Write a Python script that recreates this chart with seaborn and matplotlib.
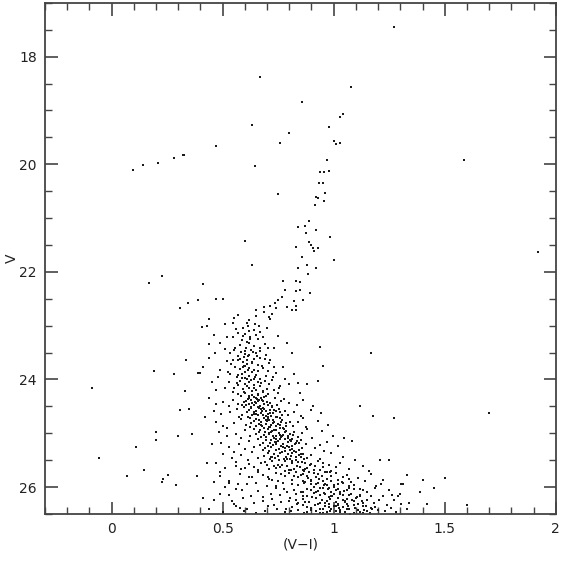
import numpy as np
import pandas as pd
import seaborn as sns
from matplotlib import pyplot as plt
from matplotlib.ticker import MultipleLocator

# blue horizontal branch
hb = [(0.095, 20.10), (0.14, 20.02), (0.207, 19.98), (0.28, 19.89), (0.32, 19.82), (0.325, 19.83)]

# red giant branch + subgiants
rgb = [(0.667, 18.38), (1.077, 18.57), (0.856, 18.85), (1.04, 19.07), (1.03, 19.12), (0.98, 19.31),
       (0.80, 19.42), (1.0, 19.57), (1.01, 19.63), (1.027, 19.61), (0.97, 19.93), (0.94, 20.15),
       (0.955, 20.15), (0.977, 20.13), (0.932, 20.35), (0.95, 20.34), (0.96, 20.54), (0.92, 20.6),
       (0.93, 20.62), (0.915, 20.75), (0.955, 20.68), (0.87, 21.14), (0.89, 21.05), (0.84, 21.16),
       (0.92, 21.22), (0.875, 21.28), (0.89, 21.44), (0.90, 21.5), (0.905, 21.56), (0.91, 21.62),
       (0.93, 21.56), (0.83, 21.53), (0.855, 21.72), (0.88, 21.87), (0.84, 21.92), (0.92, 21.92),
       (0.885, 22.04), (0.77, 22.17), (0.83, 22.17), (0.85, 22.19), (0.78, 22.34), (0.83, 22.35),
       (0.85, 22.34), (0.895, 22.39), (0.765, 22.46), (0.75, 22.52), (0.82, 22.54), (0.86, 22.52),
       (0.735, 22.58), (0.715, 22.63), (0.685, 22.65), (0.74, 22.67), (0.79, 22.65), (0.83, 22.63),
       (0.81, 22.7), (0.83, 22.7)]

# field stars scattered over the diagram
field = [(1.27, 17.45), (0.63, 19.27), (0.76, 19.61), (0.47, 19.66), (0.644, 20.04), (0.748, 20.56),
         (1.585, 19.93), (0.985, 21.36), (0.6, 21.43), (1.0, 21.78), (0.63, 21.87), (1.92, 21.63),
         (0.17, 22.2), (0.225, 22.07), (0.41, 22.22), (0.31, 22.67), (0.345, 22.58), (0.39, 22.52),
         (0.47, 22.5), (0.5, 22.5), (0.335, 23.64), (0.19, 23.84), (0.28, 23.9), (0.39, 23.88),
         (-0.09, 24.15), (0.33, 24.22), (0.31, 24.57), (0.35, 24.55), (0.2, 24.98), (0.2, 25.13),
         (0.3, 25.05), (0.36, 25.02), (0.11, 25.25), (-0.055, 25.45), (0.145, 25.69), (0.07, 25.8),
         (0.23, 25.84), (0.225, 25.9), (0.255, 25.77), (0.29, 25.97), (0.385, 25.8), (1.27, 24.71),
         (1.70, 24.63), (1.25, 25.49), (1.21, 25.5), (1.33, 25.78), (1.40, 25.87), (1.5, 25.83),
         (1.31, 25.95), (1.305, 25.95), (1.45, 26.02), (1.39, 26.1), (1.29, 26.16), (1.60, 26.33),
         (1.42, 26.31), (1.34, 26.29), (0.94, 23.4), (1.17, 23.5), (0.95, 23.75), (0.93, 24.02),
         (1.117, 24.5), (1.175, 24.67)]

# upper main sequence / turnoff
ms_upper = [(0.65, 22.7), (0.685, 22.75), (0.72, 22.78), (0.65, 22.82), (0.71, 22.84), (0.57, 22.8),
            (0.62, 22.9), (0.55, 22.86), (0.645, 22.97), (0.715, 22.88), (0.44, 22.88), (0.51, 22.97),
            (0.545, 22.95), (0.43, 23.0), (0.405, 23.02), (0.59, 23.04), (0.615, 23.0), (0.665, 23.0),
            (0.70, 23.04), (0.62, 23.1), (0.57, 23.14), (0.52, 23.21), (0.545, 23.21), (0.625, 23.21),
            (0.65, 23.18), (0.46, 23.18), (0.585, 23.27), (0.61, 23.3), (0.62, 23.32), (0.44, 23.34),
            (0.49, 23.32), (0.69, 23.34), (0.73, 23.41), (0.79, 23.32), (0.67, 23.41), (0.555, 23.41),
            (0.6, 23.47), (0.465, 23.5), (0.635, 23.49), (0.535, 23.5), (0.81, 23.5), (0.57, 23.57),
            (0.595, 23.58), (0.655, 23.57), (0.695, 23.55), (0.715, 23.64), (0.545, 23.64), (0.41, 23.77),
            (0.49, 23.83), (0.555, 23.77), (0.595, 23.75), (0.63, 23.7), (0.675, 23.75), (0.71, 23.7),
            (0.73, 23.77), (0.77, 23.77), (0.4, 23.88), (0.535, 23.9), (0.565, 23.95), (0.585, 23.9),
            (0.61, 24.0), (0.645, 23.95), (0.67, 24.0), (0.695, 23.93), (0.72, 24.01), (0.80, 24.08),
            (0.84, 24.07), (0.88, 24.08), (0.76, 24.12), (0.47, 24.2), (0.51, 24.15),
            (0.60, 23.52), (0.62, 23.55), (0.58, 23.61), (0.61, 23.63), (0.64, 23.62), (0.59, 23.68),
            (0.61, 23.71), (0.6, 23.74), (0.62, 23.79), (0.58, 23.81), (0.64, 23.83), (0.6, 23.86),
            (0.63, 23.87), (0.66, 23.85), (0.57, 23.92), (0.62, 23.93), (0.6, 23.97), (0.64, 23.99),
            (0.58, 24.02), (0.62, 24.04), (0.66, 24.05), (0.69, 24.03), (0.6, 24.08), (0.64, 24.1),
            (0.57, 24.11), (0.67, 24.13), (0.71, 24.09), (0.62, 24.15), (0.59, 24.18), (0.65, 24.19),
            (0.7, 24.17), (0.55, 24.16), (0.63, 24.22), (0.68, 24.24), (0.6, 24.25), (0.73, 24.2),
            (0.66, 24.28), (0.62, 24.3), (0.57, 24.27), (0.52, 23.66), (0.48, 23.95), (0.53, 24.05),
            (0.74, 23.88), (0.69, 23.62), (0.55, 23.45), (0.64, 23.38), (0.58, 23.36), (0.66, 23.25),
            (0.6, 23.16), (0.56, 23.07), (0.67, 23.12), (0.75, 23.2), (0.51, 23.43), (0.78, 24.0),
            (0.75, 24.25), (0.45, 24.05), (0.44, 23.6), (0.82, 23.9), (0.85, 24.25),
            (0.603, 23.418), (0.627, 23.447), (0.583, 23.483), (0.648, 23.512), (0.612, 23.563),
            (0.668, 23.598), (0.571, 23.638), (0.632, 23.682), (0.657, 23.726), (0.593, 23.763),
            (0.681, 23.792), (0.614, 23.824), (0.649, 23.912), (0.586, 23.968), (0.628, 24.018),
            (0.672, 24.072), (0.608, 24.122), (0.643, 24.163), (0.683, 24.212), (0.596, 24.224),
            (0.657, 24.262), (0.631, 24.288), (0.702, 24.268), (0.547, 24.238), (0.522, 23.852),
            (0.702, 23.846), (0.728, 23.958), (0.752, 24.152), (0.563, 24.072), (0.538, 23.706),
            (0.667, 23.468), (0.706, 23.408), (0.623, 23.252), (0.593, 23.192), (0.682, 23.212),
            (0.642, 23.074), (0.611, 22.948)]

# main sequence, V 24.3 - 25.5
ms_mid = [(0.583, 24.31), (0.618, 24.336), (0.641, 24.318), (0.672, 24.352), (0.694, 24.305),
          (0.737, 24.344), (0.548, 24.372), (0.626, 24.388), (0.655, 24.366), (0.681, 24.402),
          (0.596, 24.414), (0.633, 24.431), (0.659, 24.408), (0.714, 24.437), (0.763, 24.396),
          (0.502, 24.41), (0.571, 24.448), (0.642, 24.466), (0.688, 24.452), (0.607, 24.481),
          (0.668, 24.494), (0.745, 24.474), (0.797, 24.436), (0.862, 24.377), (0.471, 24.462),
          (0.528, 24.497), (0.614, 24.356), (0.652, 24.441), (0.686, 24.325), (0.723, 24.489),
          (0.587, 24.473), (0.629, 24.503), (0.907, 24.49), (0.438, 24.345), (0.776, 24.371),
          (0.834, 24.483), (0.604, 24.392), (0.663, 24.378), (0.699, 24.419), (0.645, 24.425),
          (0.598, 24.513), (0.627, 24.534), (0.664, 24.521), (0.686, 24.548), (0.724, 24.508),
          (0.752, 24.553), (0.563, 24.546), (0.617, 24.572), (0.651, 24.585), (0.678, 24.594),
          (0.712, 24.566), (0.781, 24.579), (0.534, 24.605), (0.608, 24.612), (0.639, 24.634),
          (0.674, 24.618), (0.703, 24.641), (0.728, 24.626), (0.759, 24.607), (0.823, 24.598),
          (0.587, 24.652), (0.634, 24.668), (0.657, 24.659), (0.694, 24.684), (0.719, 24.672),
          (0.746, 24.693), (0.792, 24.664), (0.493, 24.637), (0.572, 24.688), (0.853, 24.673),
          (0.897, 24.562), (0.462, 24.584), (0.942, 24.628), (0.671, 24.547), (0.738, 24.588),
          (0.648, 24.637), (0.706, 24.697), (0.613, 24.694), (0.683, 24.528), (0.766, 24.652),
          (0.623, 24.712), (0.649, 24.734), (0.684, 24.718), (0.707, 24.745), (0.742, 24.706),
          (0.768, 24.752), (0.584, 24.741), (0.641, 24.774), (0.674, 24.783), (0.698, 24.768),
          (0.733, 24.792), (0.801, 24.781), (0.551, 24.803), (0.627, 24.814), (0.662, 24.832),
          (0.693, 24.818), (0.719, 24.843), (0.751, 24.827), (0.784, 24.809), (0.838, 24.797),
          (0.603, 24.854), (0.652, 24.872), (0.677, 24.858), (0.712, 24.884), (0.738, 24.869),
          (0.771, 24.893), (0.817, 24.862), (0.503, 24.861), (0.876, 24.882), (0.928, 24.763),
          (0.472, 24.781), (0.976, 24.843), (0.702, 24.729), (0.758, 24.851), (0.687, 24.902),
          (0.621, 24.889), (0.861, 24.718), (0.726, 24.761), (0.664, 24.746), (0.783, 24.873),
          (0.641, 24.912), (0.668, 24.931), (0.703, 24.922), (0.729, 24.944), (0.758, 24.909),
          (0.787, 24.953), (0.602, 24.938), (0.663, 24.972), (0.692, 24.984), (0.718, 24.967),
          (0.753, 24.993), (0.822, 24.981), (0.561, 25.004), (0.648, 25.013), (0.684, 25.031),
          (0.709, 25.018), (0.741, 25.043), (0.772, 25.027), (0.803, 25.008), (0.858, 24.998),
          (0.623, 25.052), (0.671, 25.068), (0.697, 25.061), (0.733, 25.083), (0.762, 25.072),
          (0.793, 25.094), (0.839, 25.063), (0.518, 25.058), (0.902, 25.081), (0.947, 24.963),
          (0.483, 24.982), (0.997, 25.041), (0.777, 24.928), (0.741, 25.102), (0.814, 25.098),
          (0.582, 25.093), (1.048, 25.089), (0.878, 24.924), (0.721, 24.951), (0.768, 25.048),
          (0.657, 25.114), (0.693, 25.132), (0.718, 25.121), (0.748, 25.144), (0.782, 25.109),
          (0.806, 25.152), (0.618, 25.139), (0.683, 25.172), (0.714, 25.184), (0.736, 25.168),
          (0.772, 25.193), (0.843, 25.181), (0.572, 25.204), (0.668, 25.213), (0.702, 25.234),
          (0.727, 25.219), (0.763, 25.243), (0.788, 25.227), (0.824, 25.208), (0.877, 25.198),
          (0.643, 25.253), (0.692, 25.271), (0.716, 25.262), (0.754, 25.284), (0.781, 25.269),
          (0.812, 25.293), (0.858, 25.264), (0.528, 25.262), (0.918, 25.282), (0.968, 25.163),
          (0.493, 25.178), (1.021, 25.241), (0.803, 25.128), (0.601, 25.291), (0.851, 25.118),
          (1.082, 25.152), (0.938, 25.219), (0.741, 25.158), (0.797, 25.246), (0.829, 25.176),
          (0.683, 25.312), (0.708, 25.334), (0.742, 25.318), (0.768, 25.343), (0.803, 25.306),
          (0.828, 25.352), (0.634, 25.341), (0.702, 25.372), (0.731, 25.384), (0.757, 25.368),
          (0.792, 25.393), (0.861, 25.381), (0.583, 25.402), (0.688, 25.413), (0.723, 25.432),
          (0.748, 25.418), (0.783, 25.441), (0.807, 25.427), (0.842, 25.408), (0.897, 25.398),
          (0.661, 25.452), (0.713, 25.472), (0.737, 25.461), (0.774, 25.483), (0.801, 25.469),
          (0.832, 25.492), (0.878, 25.463), (0.542, 25.458), (0.938, 25.481), (0.987, 25.362),
          (0.503, 25.378), (1.041, 25.443), (0.822, 25.328), (1.098, 25.487), (0.612, 25.489),
          (0.958, 25.321), (0.766, 25.356), (0.852, 25.437), (0.719, 25.446),
          (0.648, 24.345), (0.676, 24.382), (0.619, 24.458), (0.705, 24.472), (0.661, 24.515),
          (0.697, 24.577), (0.641, 24.601), (0.733, 24.562), (0.682, 24.662), (0.714, 24.623),
          (0.759, 24.718), (0.693, 24.762), (0.728, 24.816), (0.672, 24.844), (0.764, 24.798),
          (0.709, 24.889), (0.741, 24.931), (0.781, 24.968), (0.708, 24.996), (0.758, 25.023),
          (0.792, 25.056), (0.726, 25.058), (0.818, 25.036), (0.758, 25.113), (0.794, 25.168),
          (0.742, 25.198), (0.812, 25.231), (0.836, 25.143), (0.772, 25.262), (0.843, 25.306),
          (0.781, 25.321), (0.813, 25.362), (0.851, 25.392), (0.828, 25.442), (0.868, 25.482),
          (0.791, 25.474), (0.752, 25.498)]

# lower main sequence, V 25.5 - 26.5
ms_lower = [(0.72, 25.52), (0.78, 25.51), (0.84, 25.53), (0.87, 25.55), (0.81, 25.56), (0.75, 25.58),
            (0.90, 25.57), (0.69, 25.54), (0.62, 25.57), (0.93, 25.52), (0.98, 25.59), (1.03, 25.55),
            (0.56, 25.60), (0.79, 25.61), (0.85, 25.62), (0.88, 25.64), (0.82, 25.66), (0.76, 25.63),
            (0.71, 25.67), (0.95, 25.63), (0.91, 25.68), (1.07, 25.66), (0.66, 25.69), (0.51, 25.65),
            (0.86, 25.69), (0.80, 25.68), (1.13, 25.61), (0.99, 25.70), (0.73, 25.60), (0.60, 25.65),
            (0.47, 25.56),
            (0.83, 25.71), (0.89, 25.72), (0.86, 25.75), (0.80, 25.74), (0.93, 25.76), (0.96, 25.71),
            (0.74, 25.73), (0.68, 25.77), (1.01, 25.74), (1.06, 25.78), (0.58, 25.75), (0.88, 25.79),
            (0.92, 25.81), (0.84, 25.82), (0.78, 25.80), (0.97, 25.84), (1.02, 25.86), (0.71, 25.85),
            (0.63, 25.82), (0.90, 25.87), (0.86, 25.89), (0.95, 25.89), (1.11, 25.83), (1.17, 25.76),
            (0.53, 25.88), (0.75, 25.88), (0.81, 25.86), (1.08, 25.90), (0.66, 25.71), (0.99, 25.79),
            (0.49, 25.80), (1.22, 25.87),
            (0.87, 25.91), (0.93, 25.92), (0.90, 25.95), (0.96, 25.94), (1.00, 25.97), (0.84, 25.96),
            (0.77, 25.93), (1.04, 25.92), (0.70, 25.98), (1.09, 25.97), (0.61, 25.95), (0.91, 26.00),
            (0.95, 26.02), (0.98, 26.01), (1.02, 26.04), (0.88, 26.03), (0.82, 26.05), (1.06, 26.06),
            (0.74, 26.02), (1.12, 26.03), (0.66, 26.07), (0.93, 26.08), (0.99, 26.09), (1.03, 26.10),
            (0.86, 26.09), (1.15, 26.09), (0.56, 26.04), (0.79, 26.10), (1.19, 25.98), (0.51, 25.99),
            (1.25, 26.06), (0.97, 25.96), (1.07, 26.01),
            (0.91, 26.11), (0.96, 26.12), (1.00, 26.13), (0.94, 26.15), (1.04, 26.14), (0.88, 26.16),
            (1.08, 26.12), (0.83, 26.13), (1.12, 26.17), (0.76, 26.15), (0.68, 26.18), (0.98, 26.19),
            (1.02, 26.20), (0.92, 26.21), (1.06, 26.22), (1.10, 26.21), (0.86, 26.23), (1.15, 26.24),
            (0.80, 26.25), (0.72, 26.22), (0.59, 26.20), (0.97, 26.26), (1.01, 26.27), (1.05, 26.28),
            (0.94, 26.29), (1.09, 26.26), (1.18, 26.29), (1.22, 26.17), (0.89, 26.27), (0.54, 26.26),
            (0.64, 26.29), (0.84, 26.30), (1.13, 26.30), (1.27, 26.24), (0.99, 26.16), (0.49, 26.13),
            (1.30, 26.12),
            (0.93, 26.31), (0.98, 26.32), (1.02, 26.33), (1.06, 26.31), (0.96, 26.35), (1.00, 26.36),
            (1.04, 26.37), (1.09, 26.34), (0.90, 26.38), (1.13, 26.36), (0.86, 26.34), (1.17, 26.39),
            (0.81, 26.37), (0.73, 26.33), (0.95, 26.40), (0.99, 26.41), (1.03, 26.42), (1.07, 26.40),
            (1.11, 26.43), (0.92, 26.44), (1.01, 26.45), (1.05, 26.46), (0.88, 26.46), (1.15, 26.45),
            (1.20, 26.42), (0.97, 26.47), (1.09, 26.48), (0.84, 26.42), (0.78, 26.47), (0.69, 26.44),
            (0.61, 26.40), (1.24, 26.33), (1.28, 26.47), (0.56, 26.35), (1.13, 26.49), (0.94, 26.49),
            (1.33, 26.41), (0.50, 26.46),
            (0.42, 24.7), (0.45, 25.2), (0.43, 25.55), (0.46, 25.9), (0.41, 26.2), (0.44, 26.4),
            (0.52, 24.9), (0.55, 25.35), (0.57, 25.95), (0.53, 26.15), (0.58, 26.38),
            (0.812, 25.524), (0.857, 25.538), (0.893, 25.581), (0.768, 25.593), (0.833, 25.612),
            (0.914, 25.608), (0.952, 25.548), (0.873, 25.657), (0.742, 25.641), (0.938, 25.676),
            (1.012, 25.618), (0.806, 25.684), (0.698, 25.593), (0.641, 25.623), (0.584, 25.672),
            (0.868, 25.702), (0.913, 25.738), (0.851, 25.768), (0.947, 25.792), (0.982, 25.727),
            (0.823, 25.793), (0.764, 25.758), (0.702, 25.812), (1.043, 25.812), (0.883, 25.834),
            (0.934, 25.858), (0.988, 25.878), (1.037, 25.902), (0.867, 25.921), (0.921, 25.938),
            (0.958, 25.963), (1.018, 25.948), (0.812, 25.947), (0.741, 25.972), (0.648, 25.921),
            (1.068, 25.978), (0.938, 26.018), (0.973, 26.037), (1.011, 26.061), (1.047, 26.078),
            (0.897, 26.058), (0.852, 26.084), (0.778, 26.043), (1.092, 26.044), (1.134, 26.062),
            (0.958, 26.103), (1.028, 26.128), (1.071, 26.151), (0.938, 26.138), (0.902, 26.182),
            (0.863, 26.164), (1.118, 26.138), (1.168, 26.158), (0.803, 26.197), (0.718, 26.124),
            (0.628, 26.158), (0.982, 26.224), (1.043, 26.242), (1.082, 26.239), (1.128, 26.262),
            (0.948, 26.248), (0.873, 26.268), (0.828, 26.233), (1.204, 26.238), (0.762, 26.283),
            (0.683, 26.261), (0.963, 26.303), (1.018, 26.318), (1.063, 26.342), (1.108, 26.318),
            (1.147, 26.343), (0.918, 26.328), (0.878, 26.362), (0.834, 26.318), (1.188, 26.366),
            (0.978, 26.372), (1.022, 26.394), (1.061, 26.413), (1.098, 26.386), (1.138, 26.418),
            (0.937, 26.412), (0.897, 26.428), (1.174, 26.402), (1.231, 26.439), (0.808, 26.448),
            (0.743, 26.401), (0.982, 26.452), (1.028, 26.471), (1.072, 26.493), (1.117, 26.468),
            (0.952, 26.488), (0.868, 26.481), (1.163, 26.487), (1.258, 26.393), (0.652, 26.472),
            (0.598, 26.448), (1.012, 26.348), (1.052, 26.257), (0.992, 26.172), (1.103, 26.187),
            (0.921, 26.082), (1.003, 25.992), (0.898, 25.884), (0.968, 25.712), (1.071, 25.848),
            (0.723, 25.874), (0.782, 25.708), (0.672, 25.553), (0.618, 25.812), (0.562, 25.542),
            (0.528, 25.932), (0.589, 26.052), (0.551, 26.318), (0.463, 26.247), (0.488, 25.713),
            (0.703, 26.352), (0.783, 26.408), (1.213, 25.938), (1.262, 26.138), (1.302, 26.312),
            (1.157, 25.702), (1.188, 26.024), (1.143, 25.883)]

stars = hb + rgb + field + ms_upper + ms_mid + ms_lower
df = pd.DataFrame(stars, columns=["VI", "V"])

sns.set_style("ticks")
fig = plt.figure(figsize=(5.7, 5.63), dpi=100)
ax = fig.add_axes([0.079, 0.087, 0.896, 0.908])

sns.scatterplot(data=df, x="VI", y="V", ax=ax, s=2.2, marker="s", color="#1a1a1a",
                linewidth=0, legend=False)

ax.set_xlim(-0.3, 2.0)
ax.set_ylim(26.5, 17.0)
ax.xaxis.set_major_locator(MultipleLocator(0.5))
ax.xaxis.set_minor_locator(MultipleLocator(0.1))
ax.yaxis.set_major_locator(MultipleLocator(2))
ax.yaxis.set_minor_locator(MultipleLocator(0.5))
ax.set_xticks([0, 0.5, 1, 1.5, 2])
ax.set_xticklabels(["0", "0.5", "1", "1.5", "2"])
ax.tick_params(which="both", direction="in", top=True, right=True, color="#444444",
               labelsize=10, labelcolor="#222222", pad=6)
ax.tick_params(which="major", length=9, width=1.2)
ax.tick_params(which="minor", length=5, width=1.0)
for sp in ax.spines.values():
    sp.set_color("#444444")
    sp.set_linewidth(1.3)

ax.set_xlabel("(V\u2212I)", fontsize=10, color="#222222")
ax.set_ylabel("V", fontsize=10, color="#222222")
ax.xaxis.set_label_coords(0.5, -0.045)
ax.yaxis.set_label_coords(-0.052, 0.5)

fig.savefig("out.png", dpi=100)
